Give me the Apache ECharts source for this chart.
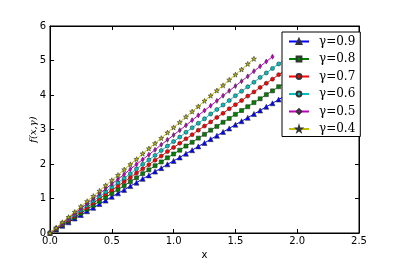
<!DOCTYPE html>
<html><head><meta charset="utf-8">
<script src="https://cdn.jsdelivr.net/npm/echarts@6/dist/echarts.min.js"></script>
<style>html,body{margin:0;padding:0;background:#fff}#c{width:399px;height:266px}</style>
</head><body><div id="c"></div>
<script>
var xs = [0,0.05,0.1,0.15,0.2,0.25,0.3,0.35,0.4,0.45,0.5,0.55,0.6,0.65,0.7,0.75,0.8,0.85,0.9,0.95,1.0,1.05,1.1,1.15,1.2,1.25,1.3,1.35,1.4,1.45,1.5,1.55,1.6,1.65,1.7,1.75,1.8,1.85,1.9,1.95,2.0,2.05,2.1,2.15,2.2,2.25,2.3,2.35];
var names = ['γ=0.9','γ=0.8','γ=0.7','γ=0.6','γ=0.5','γ=0.4'];
var y09 = [0,0.10,0.21,0.31,0.42,0.52,0.63,0.73,0.84,0.94,1.05,1.15,1.25,1.36,1.46,1.57,1.67,1.78,1.88,1.99,2.09,2.19,2.30,2.40,2.51,2.61,2.72,2.82,2.93,3.03,3.14,3.24,3.34,3.45,3.55,3.66,3.76,3.87,3.97,4.08,4.18,4.28,4.39,4.49,4.60,4.70,4.81,4.91];
var y08 = [0,0.11,0.23,0.34,0.46,0.57,0.69,0.80,0.92,1.03,1.15,1.26,1.37,1.49,1.60,1.72,1.83,1.95,2.06,2.18,2.29,2.40,2.52,2.63,2.75,2.86,2.98,3.09,3.21,3.32,3.44,3.55,3.66,3.78,3.89,4.01,4.12,4.24,4.35,4.47,4.58,4.69,4.81,4.92];
var y07 = [0,0.12,0.25,0.37,0.50,0.62,0.74,0.87,0.99,1.12,1.24,1.36,1.49,1.61,1.74,1.86,1.98,2.11,2.23,2.36,2.48,2.60,2.73,2.85,2.98,3.10,3.22,3.35,3.47,3.60,3.72,3.84,3.97,4.09,4.22,4.34,4.46,4.59,4.71,4.84,4.96];
var y06 = [0,0.13,0.27,0.40,0.53,0.66,0.80,0.93,1.06,1.19,1.33,1.46,1.59,1.72,1.86,1.99,2.12,2.25,2.39,2.52,2.65,2.78,2.92,3.05,3.18,3.31,3.45,3.58,3.71,3.84,3.98,4.11,4.24,4.37,4.51,4.64,4.77,4.90,5.04];
var y05 = [0,0.14,0.28,0.43,0.57,0.71,0.85,0.99,1.14,1.28,1.42,1.56,1.70,1.85,1.99,2.13,2.27,2.41,2.56,2.70,2.84,2.98,3.12,3.27,3.41,3.55,3.69,3.83,3.98,4.12,4.26,4.40,4.54,4.69,4.83,4.97,5.11];
var y04 = [0,0.15,0.31,0.46,0.61,0.77,0.92,1.07,1.22,1.38,1.53,1.68,1.84,1.99,2.14,2.30,2.45,2.60,2.75,2.91,3.06,3.21,3.37,3.52,3.67,3.83,3.98,4.13,4.28,4.44,4.59,4.74,4.90,5.05];
var xTicks = ['0.0','0.5','1.0','1.5','2.0','2.5'];
var yTicks = ['0','1','2','3','4','5','6'];

var star = 'path://M50,0 L61,35 L98,35 L68,57 L79,91 L50,70 L21,91 L32,57 L2,35 L39,35 Z';
var ys = [y09,y08,y07,y06,y05,y04];
var colors = ['#0000ff','#008000','#ff0000','#00bfbf','#bf00bf','#bfbf00'];
var symbols = ['triangle','rect','circle','circle','diamond',star];
var sizes = [5,4,4,4,[3,5],5];

function pair(arr){ return arr.map(function(v,i){ return [xs[i], v]; }); }

var series = ys.map(function(arr,k){
  return {
    name: names[k], type:'line', data: pair(arr),
    symbol: symbols[k], symbolSize: sizes[k], showSymbol:true,
    lineStyle:{color:colors[k], width:1},
    itemStyle:{color:colors[k], borderColor:'#333', borderWidth:0.6},
    emphasis:{disabled:true}, animation:false, z: 2+k
  };
});

function axisCommon(){
  return {
    axisLine:{show:true, onZero:false, lineStyle:{color:'#000', width:1}},
    axisTick:{show:true, inside:true, length:4, lineStyle:{color:'#000'}},
    splitLine:{show:false}
  };
}

var chart = echarts.init(document.getElementById('c'));
chart.setOption({
  backgroundColor:'#fff',
  animation:false,
  grid:{left:50, right:40, top:26, bottom:33, show:true, borderColor:'#000', borderWidth:1, backgroundColor:'rgba(0,0,0,0)'},
  xAxis:[
    Object.assign({type:'value', min:0, max:2.5, interval:0.5, position:'bottom',
      name:'x', nameLocation:'middle', nameGap:14,
      nameTextStyle:{color:'#000', fontFamily:'DejaVu Sans', fontSize:10},
      axisLabel:{color:'#000', fontFamily:'DejaVu Sans', fontSize:10, margin:3,
        formatter:function(v){ return xTicks[Math.round(v/0.5)]; }}}, axisCommon()),
    Object.assign({type:'value', min:0, max:2.5, interval:0.5, position:'top',
      axisLabel:{show:false}}, axisCommon())
  ],
  yAxis:[
    Object.assign({type:'value', min:0, max:6, interval:1, position:'left',
      name:'f(x,γ)', nameLocation:'middle', nameGap:12, nameRotate:90, nameMoveOverlap:false,
      nameTextStyle:{color:'#000', fontFamily:'DejaVu Serif', fontStyle:'italic', fontSize:10},
      axisLabel:{color:'#000', fontFamily:'DejaVu Sans', fontSize:10, margin:4,
        formatter:function(v){ return yTicks[Math.round(v)]; }}}, axisCommon()),
    Object.assign({type:'value', min:0, max:6, interval:1, position:'right',
      axisLabel:{show:false}}, axisCommon())
  ],
  legend:{
    data:names, orient:'vertical', left:282, top:32,
    padding:[2.5,5,0.5,6], itemGap:3.5, itemWidth:20, itemHeight:6,
    backgroundColor:'#fff', borderColor:'#000', borderWidth:1, borderRadius:0,
    textStyle:{color:'#000', fontFamily:'DejaVu Serif', fontSize:12, lineHeight:14, padding:[0,0,0,5]},
    z:10
  },
  series: series
});
</script>
</body></html>
